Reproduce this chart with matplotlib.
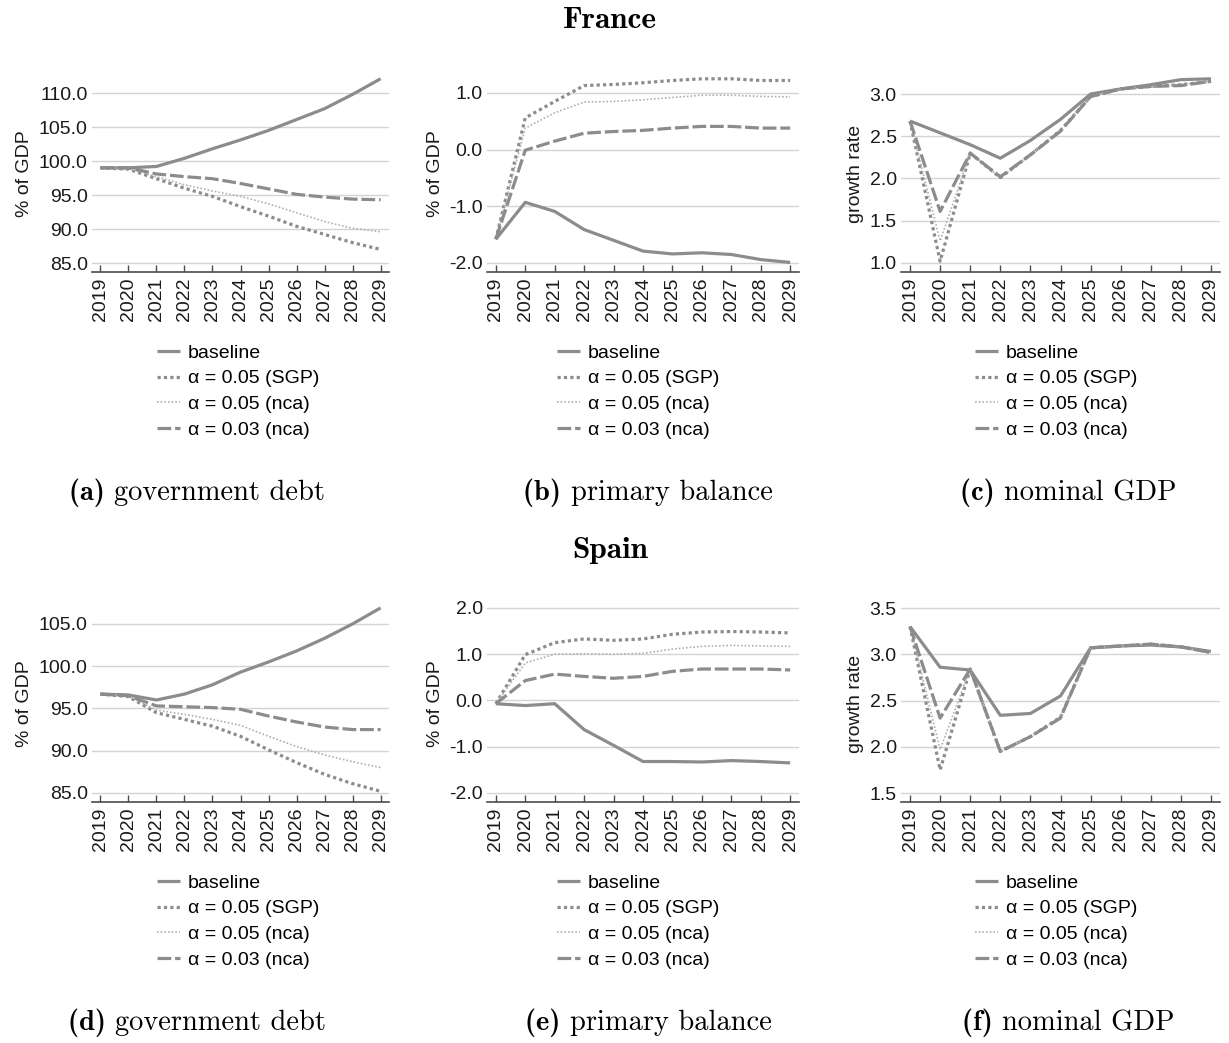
import matplotlib
matplotlib.use("Agg")
import matplotlib.pyplot as plt
import numpy as np

plt.rcParams['font.family'] = ['Liberation Sans', 'DejaVu Sans']
plt.rcParams['axes.unicode_minus'] = False

years = list(range(2019, 2030))
series_labels = ["baseline", "α = 0.05 (SGP)", "α = 0.05 (nca)", "α = 0.03 (nca)"]

# France
fr_debt_base = [99.0, 99.0, 99.2, 100.4, 101.8, 103.1, 104.5, 106.1, 107.7, 109.8, 112.1]
fr_debt_sgp = [99.0, 98.8, 97.4, 96.0, 94.8, 93.3, 91.9, 90.4, 89.2, 88.0, 87.0]
fr_debt_nca5 = [99.0, 98.9, 97.7, 96.5, 95.6, 94.8, 93.7, 92.4, 91.1, 90.1, 89.6]
fr_debt_nca3 = [99.0, 99.0, 98.1, 97.7, 97.4, 96.7, 95.9, 95.1, 94.7, 94.4, 94.3]

fr_pb_base = [-1.58, -0.93, -1.09, -1.41, -1.60, -1.79, -1.84, -1.82, -1.85, -1.94, -1.99]
fr_pb_sgp = [-1.58, 0.56, 0.85, 1.13, 1.15, 1.18, 1.22, 1.25, 1.25, 1.22, 1.22]
fr_pb_nca5 = [-1.58, 0.38, 0.65, 0.84, 0.85, 0.88, 0.92, 0.96, 0.96, 0.94, 0.93]
fr_pb_nca3 = [-1.58, -0.01, 0.15, 0.29, 0.32, 0.34, 0.38, 0.41, 0.41, 0.38, 0.38]

fr_gdp_base = [2.68, 2.54, 2.40, 2.24, 2.45, 2.70, 3.00, 3.06, 3.11, 3.17, 3.18]
fr_gdp_sgp = [2.68, 1.02, 2.30, 2.01, 2.28, 2.57, 2.97, 3.06, 3.09, 3.11, 3.15]
fr_gdp_nca5 = [2.68, 1.26, 2.30, 2.01, 2.28, 2.57, 2.97, 3.06, 3.09, 3.11, 3.15]
fr_gdp_nca3 = [2.68, 1.61, 2.30, 2.02, 2.28, 2.56, 2.97, 3.06, 3.09, 3.10, 3.15]

# Spain
es_debt_base = [96.7, 96.6, 96.0, 96.7, 97.8, 99.3, 100.5, 101.8, 103.3, 105.0, 106.9]
es_debt_sgp = [96.7, 96.4, 94.5, 93.7, 92.9, 91.7, 90.1, 88.6, 87.2, 86.1, 85.2]
es_debt_nca5 = [96.7, 96.5, 94.8, 94.3, 93.7, 93.0, 91.7, 90.5, 89.5, 88.7, 88.0]
es_debt_nca3 = [96.7, 96.5, 95.3, 95.2, 95.1, 94.9, 94.1, 93.4, 92.8, 92.5, 92.5]

es_pb_base = [-0.07, -0.11, -0.07, -0.63, -0.97, -1.32, -1.32, -1.33, -1.30, -1.32, -1.35]
es_pb_sgp = [-0.07, 0.99, 1.25, 1.33, 1.30, 1.33, 1.43, 1.48, 1.49, 1.48, 1.46]
es_pb_nca5 = [-0.07, 0.81, 1.00, 1.01, 1.00, 1.02, 1.11, 1.17, 1.19, 1.18, 1.17]
es_pb_nca3 = [-0.07, 0.43, 0.57, 0.52, 0.48, 0.52, 0.63, 0.68, 0.68, 0.68, 0.66]

es_gdp_base = [3.30, 2.86, 2.83, 2.34, 2.36, 2.55, 3.07, 3.09, 3.10, 3.08, 3.03]
es_gdp_sgp = [3.30, 1.75, 2.84, 1.95, 2.11, 2.32, 3.07, 3.09, 3.11, 3.08, 3.02]
es_gdp_nca5 = [3.30, 1.97, 2.84, 1.95, 2.11, 2.32, 3.07, 3.09, 3.11, 3.08, 3.02]
es_gdp_nca3 = [3.30, 2.31, 2.84, 1.95, 2.11, 2.31, 3.07, 3.09, 3.11, 3.08, 3.02]

captions = ["(a)", "(b)", "(c)", "(d)", "(e)", "(f)"]
caption_text = ["government debt", "primary balance", "nominal GDP"] * 2
ylabels = ["% of GDP", "% of GDP", "growth rate"]

W, H = 1229, 1043
fig = plt.figure(figsize=(W / 100, H / 100), dpi=100)

gray = '#8c8c8c'
styles = [
    dict(color=gray, lw=2.3, linestyle='-', solid_capstyle='butt'),
    dict(color=gray, lw=2.3, linestyle=(0, (1.0, 1.0)), dash_capstyle='butt'),
    dict(color='#b0b0b0', lw=1.2, linestyle=(0, (1.0, 1.2)), dash_capstyle='butt'),
    dict(color=gray, lw=2.3, linestyle=(0, (4.3, 1.2)), dash_capstyle='butt'),
]

cols = [(92, 389), (487, 799), (901, 1220)]
rows = [(75, 272), (605, 802)]

panels = [
    [fr_debt_base, fr_debt_sgp, fr_debt_nca5, fr_debt_nca3],
    [fr_pb_base, fr_pb_sgp, fr_pb_nca5, fr_pb_nca3],
    [fr_gdp_base, fr_gdp_sgp, fr_gdp_nca5, fr_gdp_nca3],
    [es_debt_base, es_debt_sgp, es_debt_nca5, es_debt_nca3],
    [es_pb_base, es_pb_sgp, es_pb_nca5, es_pb_nca3],
    [es_gdp_base, es_gdp_sgp, es_gdp_nca5, es_gdp_nca3],
]
ylims = [(83.68, 112.65), (-2.159, 1.317), (0.893, 3.225),
         (83.93, 107.24), (-2.195, 2.064), (1.403, 3.533)]
yticks = [np.arange(85, 111, 5), np.arange(-2, 1.1, 1), np.arange(1.0, 3.1, 0.5),
          np.arange(85, 106, 5), np.arange(-2, 2.1, 1), np.arange(1.5, 3.6, 0.5)]
legend_x = [157, 557, 975]
caption_x = [197, 648, 1068]
FS = 14

for i in range(6):
    r, c = divmod(i, 3)
    x0, x1 = cols[c]
    t, b = rows[r]
    ax = fig.add_axes([x0 / W, 1 - b / H, (x1 - x0) / W, (b - t) / H])
    handles = []
    for vals, st, lab in zip(panels[i], styles, series_labels):
        h, = ax.plot(years, vals, label=lab, **st)
        handles.append(h)
    ax.set_xlim(2018.7, 2029.3)
    ax.set_ylim(*ylims[i])
    ax.set_yticks(yticks[i])
    ax.set_yticklabels([f"{v:.1f}" for v in yticks[i]])
    ax.set_xticks(years)
    ax.set_xticklabels([str(y) for y in years], rotation=90)
    for s in ['top', 'right', 'left']:
        ax.spines[s].set_visible(False)
    ax.spines['bottom'].set_color('#4d4d4d')
    ax.spines['bottom'].set_linewidth(1.2)
    ax.grid(axis='y', color='#d4d4d4', lw=1.0)
    ax.set_axisbelow(True)
    ax.tick_params(axis='y', length=0, pad=3, labelsize=FS, labelcolor='#1a1a1a')
    ax.tick_params(axis='x', direction='in', length=5, width=1.0, color='#4d4d4d',
                   pad=4, labelsize=FS, labelcolor='#1a1a1a')
    ax.set_ylabel(ylabels[c], fontsize=FS, color='#1a1a1a', labelpad=4)

    lg_top = 344 if r == 0 else 874
    ax.legend(handles=handles, loc='upper left',
              bbox_to_anchor=(legend_x[c] / W, 1 - lg_top / H),
              bbox_transform=fig.transFigure, frameon=False, fontsize=FS,
              borderpad=0, borderaxespad=0, handlelength=1.2,
              handletextpad=0.4, labelspacing=0.42)

    cy = 493 if r == 0 else 1023
    # caption: bold label followed by regular description
    t1 = fig.text(0, 0, captions[i] + " ", family='cmb10', fontsize=20.5)
    t2 = fig.text(0, 0, caption_text[i], family='cmr10', fontsize=20.5)
    fig.canvas.draw()
    rend = fig.canvas.get_renderer()
    w1 = t1.get_window_extent(rend).width
    w2 = t2.get_window_extent(rend).width
    xs = caption_x[c] - (w1 + w2) / 2
    t1.set_position((xs / W, 1 - cy / H))
    t1.set_va('center')
    t2.set_position(((xs + w1) / W, 1 - cy / H))
    t2.set_va('center')

fig.text(610 / W, 1 - 20 / H, "France", family='cmb10', fontsize=22.5, ha='center', va='center')
fig.text(610 / W, 1 - 550 / H, "Spain", family='cmb10', fontsize=22.5, ha='center', va='center')

fig.savefig("out.png", dpi=100)
